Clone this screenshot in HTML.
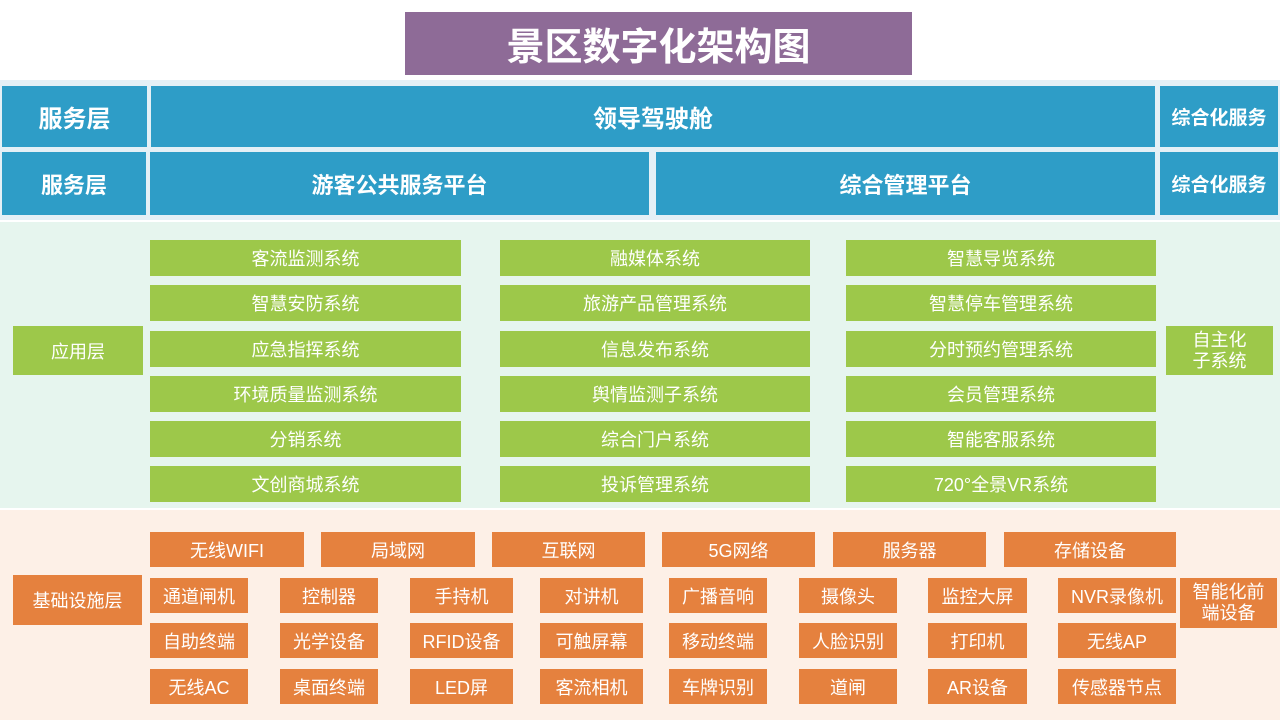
<!DOCTYPE html>
<html><head><meta charset="utf-8"><style>
body{margin:0;width:1280px;height:720px;position:relative;background:#fff;font-family:"Liberation Sans","Noto Sans CJK SC",sans-serif;overflow:hidden}
div.b{position:absolute;display:flex;align-items:center;justify-content:center;color:#fff;text-align:center;box-sizing:border-box}
.bl{background:#2e9dc7;font-weight:bold;font-size:24px}
.g{background:#9dc84a;font-size:18px}
.o{background:#e5813e;font-size:18px}
</style></head><body>
<div style="position:absolute;left:0;top:80px;width:1280px;height:140px;background:#e4f0f6"></div>
<div style="position:absolute;left:0;top:222px;width:1280px;height:286px;background:#e6f5ee"></div>
<div style="position:absolute;left:0;top:510px;width:1280px;height:210px;background:#fdf0e7"></div>
<div class="b" style="left:405px;top:12px;width:507px;height:63px;background:#8e6b97;font-size:38px;font-weight:bold">景区数字化架构图</div>
<div class="b bl" style="left:2px;top:86px;width:145px;height:61px">服务层</div>
<div class="b bl" style="left:151px;top:86px;width:1004px;height:61px">领导驾驶舱</div>
<div class="b bl" style="left:1160px;top:86px;width:118px;height:61px;font-size:19px">综合化服务</div>
<div class="b bl" style="left:2px;top:152px;width:144px;height:63px;font-size:22px">服务层</div>
<div class="b bl" style="left:150px;top:152px;width:499px;height:63px;font-size:22px">游客公共服务平台</div>
<div class="b bl" style="left:656px;top:152px;width:499px;height:63px;font-size:22px">综合管理平台</div>
<div class="b bl" style="left:1160px;top:152px;width:118px;height:63px;font-size:19px">综合化服务</div>
<div class="b g" style="left:13px;top:326px;width:130px;height:49px">应用层</div>
<div class="b g" style="left:1166px;top:326px;width:107px;height:49px;line-height:21px">自主化<br>子系统</div>
<div class="b g" style="left:150px;top:240px;width:311px;height:36px">客流监测系统</div>
<div class="b g" style="left:150px;top:285px;width:311px;height:36px">智慧安防系统</div>
<div class="b g" style="left:150px;top:331px;width:311px;height:36px">应急指挥系统</div>
<div class="b g" style="left:150px;top:376px;width:311px;height:36px">环境质量监测系统</div>
<div class="b g" style="left:150px;top:421px;width:311px;height:36px">分销系统</div>
<div class="b g" style="left:150px;top:466px;width:311px;height:36px">文创商城系统</div>
<div class="b g" style="left:500px;top:240px;width:310px;height:36px">融媒体系统</div>
<div class="b g" style="left:500px;top:285px;width:310px;height:36px">旅游产品管理系统</div>
<div class="b g" style="left:500px;top:331px;width:310px;height:36px">信息发布系统</div>
<div class="b g" style="left:500px;top:376px;width:310px;height:36px">舆情监测子系统</div>
<div class="b g" style="left:500px;top:421px;width:310px;height:36px">综合门户系统</div>
<div class="b g" style="left:500px;top:466px;width:310px;height:36px">投诉管理系统</div>
<div class="b g" style="left:846px;top:240px;width:310px;height:36px">智慧导览系统</div>
<div class="b g" style="left:846px;top:285px;width:310px;height:36px">智慧停车管理系统</div>
<div class="b g" style="left:846px;top:331px;width:310px;height:36px">分时预约管理系统</div>
<div class="b g" style="left:846px;top:376px;width:310px;height:36px">会员管理系统</div>
<div class="b g" style="left:846px;top:421px;width:310px;height:36px">智能客服系统</div>
<div class="b g" style="left:846px;top:466px;width:310px;height:36px">720°全景VR系统</div>
<div class="b o" style="left:13px;top:575px;width:129px;height:50px">基础设施层</div>
<div class="b o" style="left:1180px;top:578px;width:97px;height:50px;line-height:21px">智能化前<br>端设备</div>
<div class="b o" style="left:150px;top:532px;width:154px;height:35px">无线WIFI</div>
<div class="b o" style="left:321px;top:532px;width:154px;height:35px">局域网</div>
<div class="b o" style="left:492px;top:532px;width:153px;height:35px">互联网</div>
<div class="b o" style="left:662px;top:532px;width:153px;height:35px">5G网络</div>
<div class="b o" style="left:833px;top:532px;width:153px;height:35px">服务器</div>
<div class="b o" style="left:1004px;top:532px;width:172px;height:35px">存储设备</div>
<div class="b o" style="left:150px;top:578px;width:98px;height:35px">通道闸机</div>
<div class="b o" style="left:280px;top:578px;width:98px;height:35px">控制器</div>
<div class="b o" style="left:410px;top:578px;width:103px;height:35px">手持机</div>
<div class="b o" style="left:540px;top:578px;width:103px;height:35px">对讲机</div>
<div class="b o" style="left:669px;top:578px;width:98px;height:35px">广播音响</div>
<div class="b o" style="left:799px;top:578px;width:98px;height:35px">摄像头</div>
<div class="b o" style="left:928px;top:578px;width:99px;height:35px">监控大屏</div>
<div class="b o" style="left:1058px;top:578px;width:118px;height:35px">NVR录像机</div>
<div class="b o" style="left:150px;top:623px;width:98px;height:35px">自助终端</div>
<div class="b o" style="left:280px;top:623px;width:98px;height:35px">光学设备</div>
<div class="b o" style="left:410px;top:623px;width:103px;height:35px">RFID设备</div>
<div class="b o" style="left:540px;top:623px;width:103px;height:35px">可触屏幕</div>
<div class="b o" style="left:669px;top:623px;width:98px;height:35px">移动终端</div>
<div class="b o" style="left:799px;top:623px;width:98px;height:35px">人脸识别</div>
<div class="b o" style="left:928px;top:623px;width:99px;height:35px">打印机</div>
<div class="b o" style="left:1058px;top:623px;width:118px;height:35px">无线AP</div>
<div class="b o" style="left:150px;top:669px;width:98px;height:35px">无线AC</div>
<div class="b o" style="left:280px;top:669px;width:98px;height:35px">桌面终端</div>
<div class="b o" style="left:410px;top:669px;width:103px;height:35px">LED屏</div>
<div class="b o" style="left:540px;top:669px;width:103px;height:35px">客流相机</div>
<div class="b o" style="left:669px;top:669px;width:98px;height:35px">车牌识别</div>
<div class="b o" style="left:799px;top:669px;width:98px;height:35px">道闸</div>
<div class="b o" style="left:928px;top:669px;width:99px;height:35px">AR设备</div>
<div class="b o" style="left:1058px;top:669px;width:118px;height:35px">传感器节点</div>
</body></html>
